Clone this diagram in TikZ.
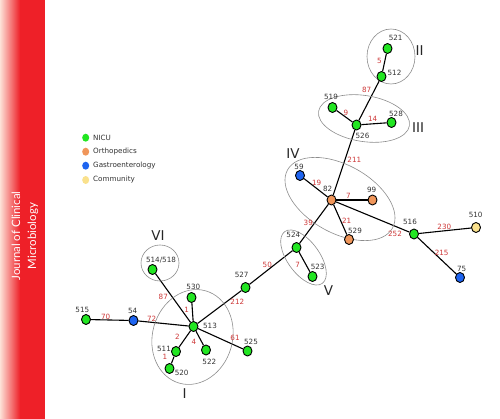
\documentclass[tikz,border=0pt]{standalone}
\usepackage{fontspec}
\setmainfont{DejaVu Sans}
\newfontfamily\jfont{Lato}
\usetikzlibrary{shapes.geometric,backgrounds}
\definecolor{nicu}{RGB}{34,230,34}
\definecolor{ortho}{RGB}{240,150,90}
\definecolor{gastro}{RGB}{30,100,240}
\definecolor{comm}{RGB}{250,225,140}
\definecolor{wred}{RGB}{205,55,55}
\definecolor{labgray}{RGB}{50,50,50}
\definecolor{jred}{RGB}{238,32,40}
\definecolor{jpale}{RGB}{253,225,215}
\tikzset{
  nd/.style={ellipse, draw=black, line width=0.9pt, minimum width=9pt, minimum height=10pt, inner sep=0pt},
  gn/.style={nd, fill=nicu},
  on/.style={nd, fill=ortho},
  bn/.style={nd, fill=gastro},
  yn/.style={nd, fill=comm},
  lbl/.style={font=\fontsize{7.2}{8}\selectfont, text=labgray, inner sep=0pt},
  wt/.style={font=\fontsize{7.2}{8}\selectfont, text=wred, inner sep=0pt},
  rom/.style={font=\fontsize{13.5}{14}\selectfont, text=black!85, inner sep=0pt},
  grp/.style={draw=black!45, line width=0.6pt},
  edgeline/.style={line width=1.1pt, black},
  legdot/.style={ellipse, minimum width=7pt, minimum height=8pt, inner sep=0pt, draw=none},
  legtxt/.style={font=\fontsize{7.2}{8}\selectfont, text=labgray, inner sep=0pt, anchor=west}
}
\begin{document}
\begin{tikzpicture}[x=1pt,y=-1pt]
\useasboundingbox (0,0) rectangle (500,419);
% journal bar
\shade[left color=jpale, right color=jred] (0,0) rectangle (20,419);
\fill[jred] (19.8,0) rectangle (45,419);
\node[rotate=90, text=white, align=center, font=\jfont\fontsize{11.5}{16}\selectfont] (journal) at (25,236) {Journal of Clinical\\Microbiology};

% legend
\node[legdot, fill=nicu] (lg1) at (85.7,137.7) {};
\node[legtxt] (lt1) at (93,137.7) {NICU};
\node[legdot, fill=ortho] (lg2) at (85.7,151.7) {};
\node[legtxt] (lt2) at (93,151.7) {Orthopedics};
\node[legdot, fill=gastro] (lg3) at (85.7,165.7) {};
\node[legtxt] (lt3) at (93,165.7) {Gastroenterology};
\node[legdot, fill=comm] (lg4) at (85.7,180) {};
\node[legtxt] (lt4) at (93,180) {Community};

% group ellipses
\draw[grp] (391,56.5) ellipse [x radius=24pt, y radius=27.5pt];
\draw[grp, rotate around={-9:(364,118.5)}] (364,118.5) ellipse [x radius=46pt, y radius=23pt];
\draw[grp, rotate around={-29:(340,199)}] (340,199) ellipse [x radius=60pt, y radius=34pt];
\draw[grp, rotate around={-54:(303.5,257.5)}] (303.5,257.5) ellipse [x radius=32pt, y radius=16pt];
\draw[grp] (160,263) ellipse [x radius=19pt, y radius=18pt];
\draw[grp, rotate around={-16:(192.5,337)}] (192.5,337) ellipse [x radius=40pt, y radius=48pt];

% nodes
\node[gn] (n521) at (387.5,48.5) {};
\node[gn] (n512) at (381.5,76.5) {};
\node[gn] (n519) at (332.5,107.5) {};
\node[gn] (n526) at (356.5,125) {};
\node[gn] (n528) at (391.5,122.5) {};
\node[bn] (n59) at (300,175.5) {};
\node[on] (n82) at (331.5,200) {};
\node[on] (n99) at (372.5,200) {};
\node[on] (n529) at (349,239.5) {};
\node[gn] (n516) at (414,234) {};
\node[yn] (n510) at (476,227.5) {};
\node[bn] (n75) at (460,277.5) {};
\node[gn] (n524) at (296.5,247.5) {};
\node[gn] (n523) at (312.5,276.5) {};
\node[gn] (n527) at (245.5,287.5) {};
\node[gn] (n514) at (152.5,269.5) {};
\node[gn] (n530) at (191.5,297.5) {};
\node[gn] (n513) at (193.5,326.5) {};
\node[gn] (n515) at (86,319.5) {};
\node[bn] (n54) at (133.5,320.5) {};
\node[gn] (n511) at (176,351.5) {};
\node[gn] (n520) at (169.5,368.5) {};
\node[gn] (n522) at (206,350) {};
\node[gn] (n525) at (247.5,351) {};

% edges
\begin{pgfonlayer}{background}
\draw[edgeline] (n521) -- (n512);
\draw[edgeline] (n512) -- (n526);
\draw[edgeline] (n526) -- (n519);
\draw[edgeline] (n526) -- (n528);
\draw[edgeline] (n526) -- (n82);
\draw[edgeline] (n82) -- (n59);
\draw[edgeline] (n82) -- (n99);
\draw[edgeline] (n82) -- (n529);
\draw[edgeline] (n82) -- (n516);
\draw[edgeline] (n82) -- (n524);
\draw[edgeline] (n516) -- (n510);
\draw[edgeline] (n516) -- (n75);
\draw[edgeline] (n524) -- (n523);
\draw[edgeline] (n524) -- (n527);
\draw[edgeline] (n527) -- (n513);
\draw[edgeline] (n513) -- (n530);
\draw[edgeline] (n513) -- (n514);
\draw[edgeline] (n513) -- (n54);
\draw[edgeline] (n54) -- (n515);
\draw[edgeline] (n513) -- (n511);
\draw[edgeline] (n511) -- (n520);
\draw[edgeline] (n513) -- (n522);
\draw[edgeline] (n513) -- (n525);
\end{pgfonlayer}

% node labels
\node[lbl] (l521) at (395.7,38) {521};
\node[lbl] (l512) at (394.5,72.5) {512};
\node[lbl] (l519) at (331,96.5) {519};
\node[lbl] (l526) at (362.5,136) {526};
\node[lbl] (l528) at (396,114) {528};
\node[lbl] (l59) at (299,166.5) {59};
\node[lbl] (l82) at (327.7,188.5) {82};
\node[lbl] (l99) at (371.7,190) {99};
\node[lbl] (l529) at (355,230.5) {529};
\node[lbl] (l516) at (410,221.7) {516};
\node[lbl] (l510) at (475.7,215) {510};
\node[lbl] (l75) at (461.7,269.3) {75};
\node[lbl] (l524) at (293.3,235) {524};
\node[lbl] (l523) at (317.7,266.7) {523};
\node[lbl] (l527) at (241.7,275) {527};
\node[lbl] (l514) at (161,260) {514/518};
\node[lbl] (l530) at (193.3,286.7) {530};
\node[lbl] (l513) at (210,326) {513};
\node[lbl] (l515) at (82.3,310) {515};
\node[lbl] (l54) at (132.7,311) {54};
\node[lbl] (l511) at (164,349) {511};
\node[lbl] (l520) at (181.7,372.7) {520};
\node[lbl] (l522) at (209.3,362) {522};
\node[lbl] (l525) at (251,341.7) {525};

% weight labels
\node[wt] (w5) at (379.3,61) {5};
\node[wt] (w87a) at (366.7,90.3) {87};
\node[wt] (w9) at (346,112.7) {9};
\node[wt] (w14) at (372.7,119.3) {14};
\node[wt] (w211) at (354.3,160) {211};
\node[wt] (w19) at (316.7,183.3) {19};
\node[wt] (w7a) at (348.3,195.7) {7};
\node[wt] (w21) at (346.7,220.7) {21};
\node[wt] (w39) at (308.3,222.7) {39};
\node[wt] (w252) at (395,234.3) {252};
\node[wt] (w230) at (444.3,226.7) {230};
\node[wt] (w215) at (441.7,253.3) {215};
\node[wt] (w7b) at (297.7,265) {7};
\node[wt] (w50) at (267.3,265) {50};
\node[wt] (w212) at (237.3,302) {212};
\node[wt] (w87b) at (163.3,297.3) {87};
\node[wt] (w1a) at (186.7,310) {1};
\node[wt] (w70) at (105.7,317) {70};
\node[wt] (w72) at (151.7,319) {72};
\node[wt] (w2) at (177.3,337.3) {2};
\node[wt] (w4) at (194,342) {4};
\node[wt] (w1b) at (165,357.3) {1};
\node[wt] (w61) at (235,338.3) {61};

% group numerals
\node[rom] (rII) at (419.5,51) {II};
\node[rom] (rIII) at (418,128) {III};
\node[rom] (rIV) at (293,154) {IV};
\node[rom] (rV) at (328.5,291) {V};
\node[rom] (rVI) at (158,236) {VI};
\node[rom] (rI) at (184.5,393.5) {I};
\end{tikzpicture}
\end{document}
